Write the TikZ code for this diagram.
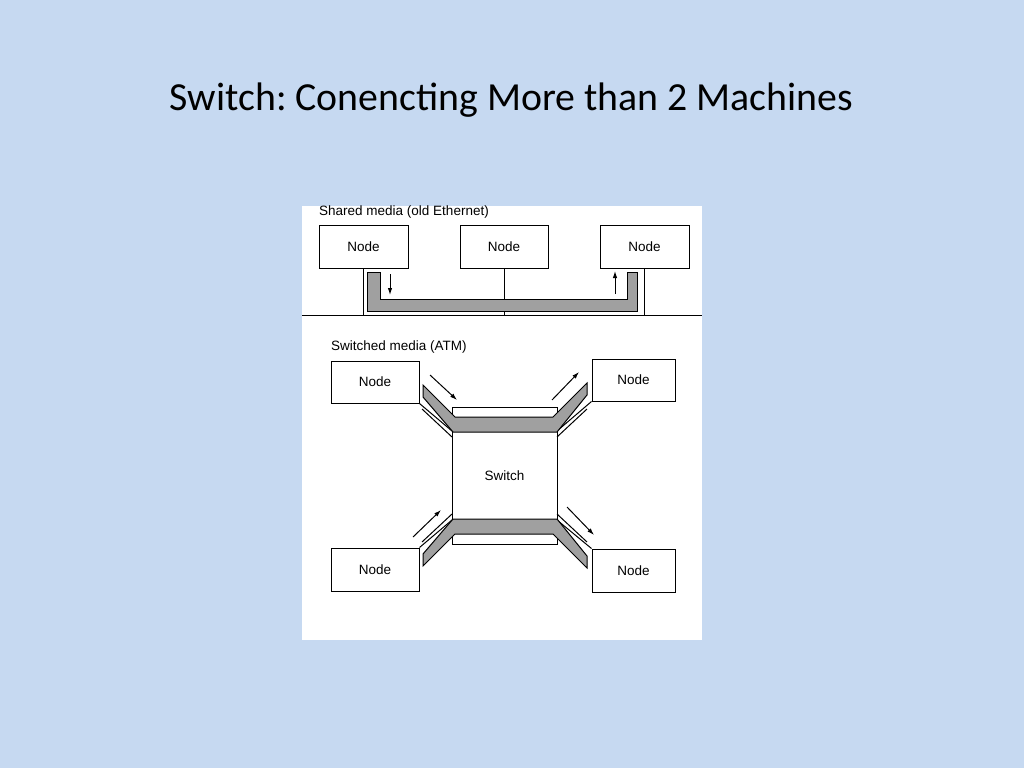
\documentclass[tikz,border=0pt]{standalone}
\usepackage{fontspec}
\setmainfont{Liberation Sans}
\newfontfamily\titlefont{Carlito}
\usetikzlibrary{arrows.meta}
\definecolor{slideblue}{RGB}{198,217,241}
\definecolor{bandgray}{RGB}{160,160,160}
\tikzset{
  box/.style={draw, line width=1pt, fill=white, inner sep=0pt},
  band/.style={draw, line width=1pt, fill=bandgray},
  wire/.style={line width=1pt},
  flow/.style={-{Latex[length=7pt,width=4.5pt]}, line width=1pt}
}
\begin{document}
\frenchspacing
\begin{tikzpicture}[x=1pt, y=-1pt, font=\fontsize{13.5}{16}\selectfont]
            \fill[slideblue] (0,0) rectangle (1024,768);
            \useasboundingbox (0,0) rectangle (1024,768);
            \node (title) at (511.5,100) {\titlefont\fontsize{39.8}{48}\selectfont Switch: Conencting More than 2 Machines};
            \fill[white] (302,206) rectangle (702,640);
            % shared media
            \node[anchor=west, inner sep=0pt] (shared) at (319,212) {Shared media (old Ethernet)};
            \node[box, minimum width=89, minimum height=43] (s1) at (363.5,246.5) {Node};
            \node[box, minimum width=88, minimum height=43] (s2) at (504,246.5) {Node};
            \node[box, minimum width=89, minimum height=43] (s3) at (644.5,246.5) {Node};
            \coordinate (lanL) at (302,315);
            \coordinate (lanR) at (702,315);
            \draw[wire] (lanL) -- (lanR);
            \draw[wire] (s1.south) -- (s1.south |- lanL);
            \draw[wire] (s2.south) -- (s2.south |- lanL);
            \draw[wire] (s3.south) -- (s3.south |- lanL);
            \draw[band] (367,272) -- (367,311) -- (637,311) -- (637,272) -- (627,272) -- (627,299) -- (380,299) -- (380,272) -- cycle;
            \draw[flow] (390,274) -- (390,295);
            \draw[flow] (615,294) -- (615,271);
            % switched media
            \node[anchor=west, inner sep=0pt] (switched) at (331,347) {Switched media (ATM)};
            \node[box, minimum width=88, minimum height=42] (tl) at (375,382) {Node};
            \node[box, minimum width=83, minimum height=42] (tr) at (633.5,380) {Node};
            \node[box, minimum width=88, minimum height=43] (bl) at (375,569.5) {Node};
            \node[box, minimum width=83, minimum height=43] (br) at (633.5,570.5) {Node};
            \node[box, minimum width=105, minimum height=137] (sw) at (504.5,475.5) {Switch};
            \coordinate (swTL) at (452,431);
            \coordinate (swTR) at (557,431);
            \coordinate (swBL) at (452,520);
            \coordinate (swBR) at (557,520);
            \draw[wire] (tl.south east) -- (swTL);
            \draw[wire] (422,409) -- (452,437);
            \draw[wire] (tr.south west) -- (swTR);
            \draw[wire] (587,409) -- (557,437);
            \draw[wire] (bl.north east) -- (swBL);
            \draw[wire] (422,542) -- (452,514);
            \draw[wire] (br.north west) -- (swBR);
            \draw[wire] (587,542) -- (557,514);
            \draw[band] (423,385) -- (455,417) -- (553,417) -- (587,383) -- (587,395) -- (557,432) -- (453,432) -- (423,397) -- cycle;
            \draw[band] (423,566) -- (455,534) -- (553,534) -- (587,568) -- (587,556) -- (557,519) -- (453,519) -- (423,554) -- cycle;
            \draw[flow] (430,375) -- (457,400);
            \draw[flow] (552,400) -- (579,372);
            \draw[flow] (413,537) -- (441,510);
            \draw[flow] (567,507) -- (594,535);
\end{tikzpicture}
\end{document}
